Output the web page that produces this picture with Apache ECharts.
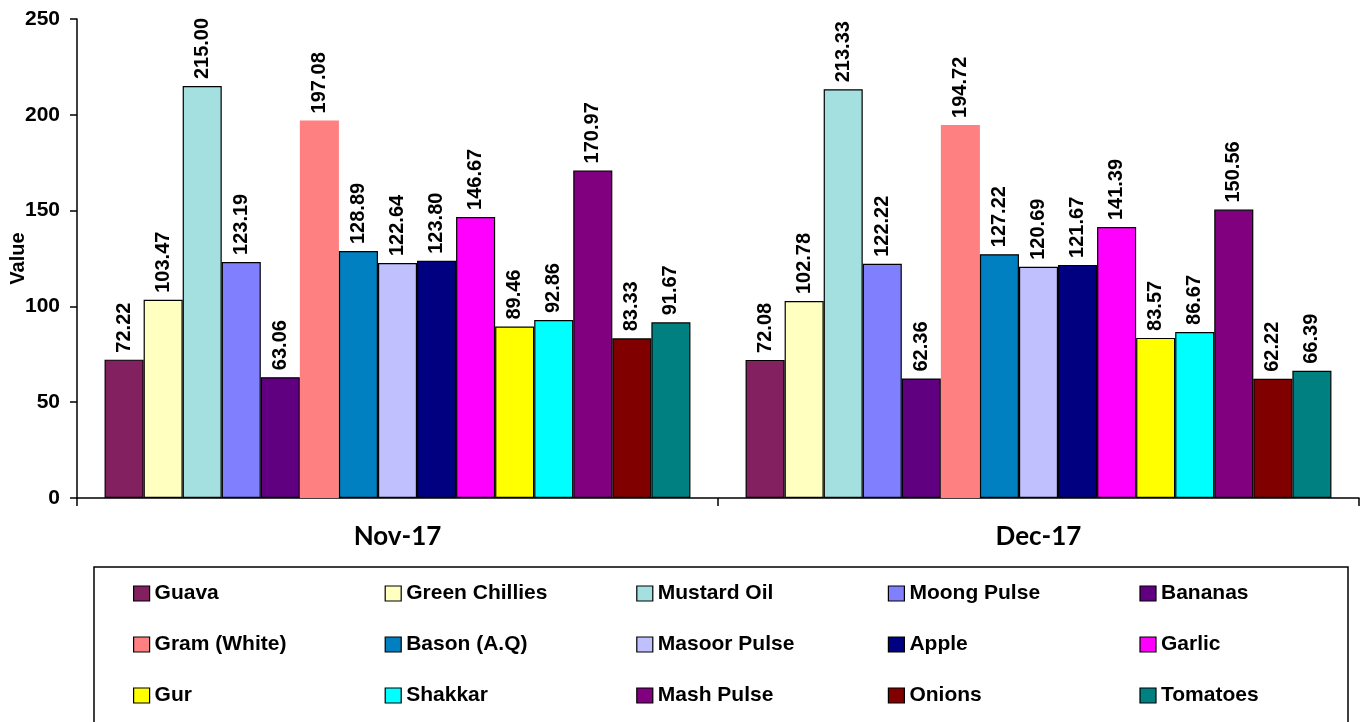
<!DOCTYPE html>
<html>
<head>
<meta charset="utf-8">
<script src="https://cdn.jsdelivr.net/npm/echarts@6/dist/echarts.min.js"></script>
<style>html,body{margin:0;padding:0;background:#fff}#c{width:1362px;height:722px}</style>
</head>
<body>
<div id="c"></div>
<script>
var categories = ['Nov-17', 'Dec-17'];
var seriesNames = ['Guava', 'Green Chillies', 'Mustard Oil', 'Moong Pulse', 'Bananas',
  'Gram (White)', 'Bason (A.Q)', 'Masoor Pulse', 'Apple', 'Garlic',
  'Gur', 'Shakkar', 'Mash Pulse', 'Onions', 'Tomatoes'];
var novValues = [72.22, 103.47, 215.00, 123.19, 63.06, 197.08, 128.89, 122.64, 123.80, 146.67, 89.46, 92.86, 170.97, 83.33, 91.67];
var decValues = [72.08, 102.78, 213.33, 122.22, 62.36, 194.72, 127.22, 120.69, 121.67, 141.39, 83.57, 86.67, 150.56, 62.22, 66.39];
var colors = ['#822060', '#FFFFC0', '#A4E0E0', '#8080FF', '#600080', '#FF8080', '#0080C0', '#C0C0FF', '#000080', '#FF00FF', '#FFFF00', '#00FFFF', '#800080', '#800000', '#008080'];
var yTicks = [0, 50, 100, 150, 200, 250];

var FONT = 'Liberation Sans, Arial, sans-serif';
var series = seriesNames.map(function (name, i) {
  var noBorder = (name === 'Gram (White)');
  return {
    name: name,
    type: 'bar',
    data: [novValues[i], decValues[i]],
    barGap: '0%',
    barCategoryGap: '8.6%',
    itemStyle: {
      color: colors[i],
      borderColor: noBorder ? colors[i] : '#000',
      borderWidth: noBorder ? 0 : 1.2
    },
    label: {
      show: true,
      position: 'top',
      rotate: 90,
      align: 'left',
      verticalAlign: 'middle',
      distance: 7,
      formatter: function (p) { return p.value.toFixed(2); },
      fontFamily: FONT,
      fontWeight: 'bold',
      fontSize: 20,
      color: '#000'
    }
  };
});

var chart = echarts.init(document.getElementById('c'));
chart.setOption({
  animation: false,
  color: colors,
  grid: { left: 77, right: 3, top: 19, bottom: 224, containLabel: false, outerBoundsMode: 'none' },
  xAxis: {
    type: 'category',
    data: categories,
    axisLine: { lineStyle: { color: '#000', width: 1.5 } },
    axisTick: { show: true, length: 8, interval: 0, lineStyle: { color: '#000', width: 1.5 } },
    axisLabel: { fontFamily: 'Lato, Liberation Sans, sans-serif', fontWeight: 'bold', fontSize: 26, color: '#000', margin: 26 }
  },
  yAxis: {
    type: 'value',
    min: yTicks[0],
    max: yTicks[yTicks.length - 1],
    interval: 50,
    name: 'Value',
    nameLocation: 'middle',
    nameGap: 49,
    nameMoveOverlap: false,
    nameTextStyle: { fontFamily: FONT, fontWeight: 'bold', fontSize: 20, color: '#000' },
    splitLine: { show: false },
    axisLine: { show: true, lineStyle: { color: '#000', width: 1.5 } },
    axisTick: { show: true, length: 7, lineStyle: { color: '#000', width: 1.5 } },
    axisLabel: { fontFamily: FONT, fontWeight: 'bold', fontSize: 21, color: '#000', margin: 17 }
  },
  legend: {
    left: 133,
    top: 568,
    width: 1260,
    itemWidth: 16,
    itemHeight: 15,
    itemGap: 0,
    padding: 0,
    icon: 'rect',
    data: seriesNames,
    itemStyle: { borderColor: '#000', borderWidth: 1.2 },
    textStyle: { fontFamily: FONT, fontWeight: 'bold', fontSize: 21, color: '#000', width: 230, lineHeight: 51, overflow: 'truncate', padding: [0, 0, 0, 0] }
  },
  graphic: [{
    type: 'rect',
    shape: { x: 94, y: 567, width: 1254, height: 180 },
    style: { fill: 'none', stroke: '#000', lineWidth: 1.5 },
    silent: true
  }],
  series: series
});
</script>
</body>
</html>
